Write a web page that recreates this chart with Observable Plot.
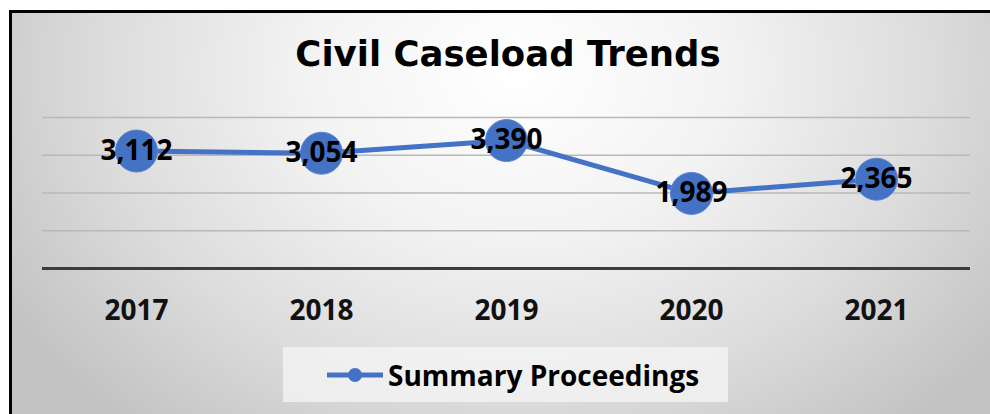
<!DOCTYPE html>
<html>
<head>
<meta charset="utf-8">
<script src="https://cdn.jsdelivr.net/npm/d3@7"></script>
<script src="https://cdn.jsdelivr.net/npm/@observablehq/plot@0.6"></script>
<style>
  html, body { margin: 0; padding: 0; width: 990px; height: 414px; overflow: hidden; background: #fff; }
  #stage { position: relative; width: 990px; height: 414px; overflow: hidden; }
  #bg {
    position: absolute; left: 9px; top: 10px; width: 990px; height: 420px;
    border-left: 3px solid #000; border-top: 3px solid #000;
    background: radial-gradient(ellipse 60% 110% at 51% 14%, #ffffff 0%, #f3f3f3 35%, #dcdcdc 70%, #c3c3c3 100%);
  }
  #title {
    position: absolute; left: 0; width: 1016px; top: 34px; text-align: center;
    font-family: "DejaVu Sans", sans-serif; font-weight: bold; font-size: 35.5px; color: #000;
    line-height: 40px;
  }
  #chart { position: absolute; left: 0; top: 0; }
  #legend {
    position: absolute; left: 283px; top: 347px; width: 445px; height: 55px;
    background: rgba(245,245,245,0.75);
    display: flex; align-items: center; box-sizing: border-box; padding-left: 44px;
    font-family: "Open Sans", sans-serif; font-weight: bold; font-size: 28px; color: #000;
  }
  #legend svg { display: block; margin-right: 5px; }
</style>
</head>
<body>
<div id="stage">
  <div id="bg"></div>
  <div id="title">Civil Caseload Trends</div>
  <div id="chart"></div>
  <div id="legend"></div>
</div>
<script>
const years = ["2017", "2018", "2019", "2020", "2021"];
const summaryProceedings = [3112, 3054, 3390, 1989, 2365];
const gridValues = [1000, 2000, 3000, 4000];
const seriesName = "Summary Proceedings";

const data = years.map((y, i) => ({year: y, value: summaryProceedings[i]}));
const blue = "#4472C4";

const chart = Plot.plot({
  width: 990,
  height: 414,
  marginLeft: 42,
  marginRight: 20,
  marginTop: 117,
  marginBottom: 146,
  style: {background: "transparent", fontFamily: "'Open Sans', sans-serif"},
  x: {type: "point", domain: years, padding: 0.5},
  y: {domain: [0, 4000], axis: null},
  marks: [
    Plot.ruleY(gridValues, {stroke: "#b8b8b8", strokeWidth: 1.3}),
    Plot.ruleY([0], {stroke: "#3c3c3c", strokeWidth: 3}),
    Plot.axisX({tickSize: 0, tickPadding: 32, fontSize: 28, fontWeight: "bold", fill: "#111", label: null}),
    Plot.line(data, {x: "year", y: "value", stroke: blue, strokeWidth: 5}),
    Plot.dot(data, {x: "year", y: "value", r: 21, fill: blue, stroke: "#5a83cc", strokeWidth: 1}),
    Plot.text(data, {x: "year", y: "value", text: d => d3.format(",")(d.value), fontSize: 28, fontWeight: "bold", fill: "#000"})
  ]
});
document.getElementById("chart").appendChild(chart);

const legend = document.getElementById("legend");
const ns = "http://www.w3.org/2000/svg";
const sw = document.createElementNS(ns, "svg");
sw.setAttribute("width", 56); sw.setAttribute("height", 20);
const ln = document.createElementNS(ns, "line");
ln.setAttribute("x1", 0); ln.setAttribute("x2", 56); ln.setAttribute("y1", 10); ln.setAttribute("y2", 10);
ln.setAttribute("stroke", blue); ln.setAttribute("stroke-width", 5);
const c = document.createElementNS(ns, "circle");
c.setAttribute("cx", 28); c.setAttribute("cy", 10); c.setAttribute("r", 7); c.setAttribute("fill", blue);
sw.appendChild(ln); sw.appendChild(c);
legend.appendChild(sw);
const span = document.createElement("span");
span.textContent = seriesName;
legend.appendChild(span);
</script>
</body>
</html>
